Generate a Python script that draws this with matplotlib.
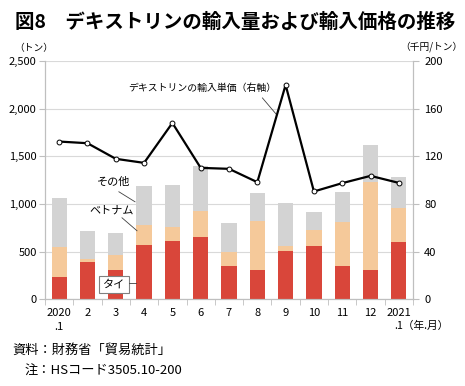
import matplotlib
matplotlib.use('Agg')
from matplotlib import pyplot as plt
import numpy as np

plt.rcParams['font.family'] = ['Noto Sans CJK JP', 'DejaVu Sans']

months = ['2020\n.1', '2', '3', '4', '5', '6', '7', '8', '9', '10', '11', '12', '2021\n.1']
thai = [230, 388, 307, 572, 611, 650, 352, 307, 510, 556, 352, 304, 601]
vietnam = [321, 31, 161, 207, 150, 277, 144, 514, 49, 167, 455, 924, 353]
others = [511, 297, 227, 409, 440, 470, 301, 296, 447, 195, 321, 389, 331]
unit_price = [132.4, 131.0, 117.9, 114.5, 148.0, 110.3, 109.5, 98.3, 179.9, 90.5, 97.5, 103.6, 97.7]

red = '#d9463a'
orange = '#f5c99a'
gray = '#d3d3d3'
axis_col = '#bfbfbf'

fig = plt.figure(figsize=(4.65, 3.86), dpi=100)
ax = fig.add_axes([45 / 465, 1 - 299.3 / 386, 368 / 465, 238.3 / 386])
x = np.arange(len(months))
w = 0.54

ax.bar(x, thai, w, color=red, zorder=2)
ax.bar(x, vietnam, w, bottom=thai, color=orange, zorder=2)
ax.bar(x, others, w, bottom=np.array(thai) + np.array(vietnam), color=gray, zorder=2)

ax.set_xlim(-0.5, len(months) - 0.5)
ax.set_ylim(0, 2500)
ax.set_yticks(range(0, 2501, 500))
ax.set_yticklabels(['0', '500', '1,000', '1,500', '2,000', '2,500'], fontsize=8)
ax.yaxis.grid(True, color='#d9d9d9', linewidth=0.8, zorder=0)
ax.set_xticks(x)
# last label's second line is drawn together with the unit text below
last_year, last_month = months[-1].split('\n')
ax.set_xticklabels(months[:-1] + [last_year], fontsize=8, linespacing=1.5, va='top')
ax.set_xticks(np.arange(-0.5, len(months), 1), minor=True)
ax.tick_params(axis='x', which='major', length=0, pad=6)
ax.tick_params(axis='x', which='minor', length=4, color=axis_col)
ax.tick_params(axis='y', length=4, color=axis_col, pad=2)
for s in ['left', 'bottom', 'right']:
    ax.spines[s].set_color(axis_col)
ax.spines['top'].set_visible(False)

ax2 = ax.twinx()
ax2.plot(x, unit_price, color='black', linewidth=1.6, marker='o', markersize=3.5,
         markerfacecolor='white', markeredgecolor='black', markeredgewidth=0.7, zorder=3)
ax2.set_ylim(0, 200)
ax2.set_yticks(range(0, 201, 40))
ax2.tick_params(axis='y', labelsize=8, length=4, color=axis_col, pad=4)
for s in ['left', 'bottom', 'right']:
    ax2.spines[s].set_color(axis_col)
ax2.spines['top'].set_visible(False)

# labels
fig.text(15 / 465, 1 - 22 / 386, '図8　デキストリンの輸入量および輸入価格の推移',
         fontsize=14, fontweight='bold', va='center', ha='left')
fig.text(34 / 465, 1 - 48 / 386, '（トン）', fontsize=7, ha='center', va='center')
fig.text(431 / 465, 1 - 47 / 386, '（千円/トン）', fontsize=7, ha='center', va='center')
fig.text(394 / 465, 1 - 326 / 386, last_month + '（年.月）', fontsize=7.7, ha='left', va='center')

ax2.text(5.05, 177.5, 'デキストリンの輸入単価（右軸）', fontsize=7.1, ha='center', va='center')
ax2.plot([7.18, 7.68], [169, 155], color='#404040', linewidth=0.6)

ax.text(1.94, 1230, 'その他', fontsize=8, ha='center', va='center')
ax.plot([2.11, 2.68], [1128, 1023], color='#404040', linewidth=0.6)
ax.text(1.85, 929, 'ベトナム', fontsize=8, ha='center', va='center')
ax.plot([2.22, 2.75], [855, 719], color='#404040', linewidth=0.6)
ax.text(1.95, 155, 'タイ', fontsize=8, ha='center', va='center',
        bbox=dict(boxstyle='square,pad=0.35', facecolor='white', edgecolor='#808080', linewidth=0.8))
ax.plot([2.45, 2.73], [174, 174], color='#404040', linewidth=0.6, zorder=3)

fig.text(12 / 465, 1 - 350 / 386, '資料：財務省「貿易統計」', fontsize=9.5, ha='left', va='center')
fig.text(25 / 465, 1 - 371 / 386, '注：HSコード3505.10-200', fontsize=9.5, ha='left', va='center')

fig.savefig('out.png', dpi=100)
